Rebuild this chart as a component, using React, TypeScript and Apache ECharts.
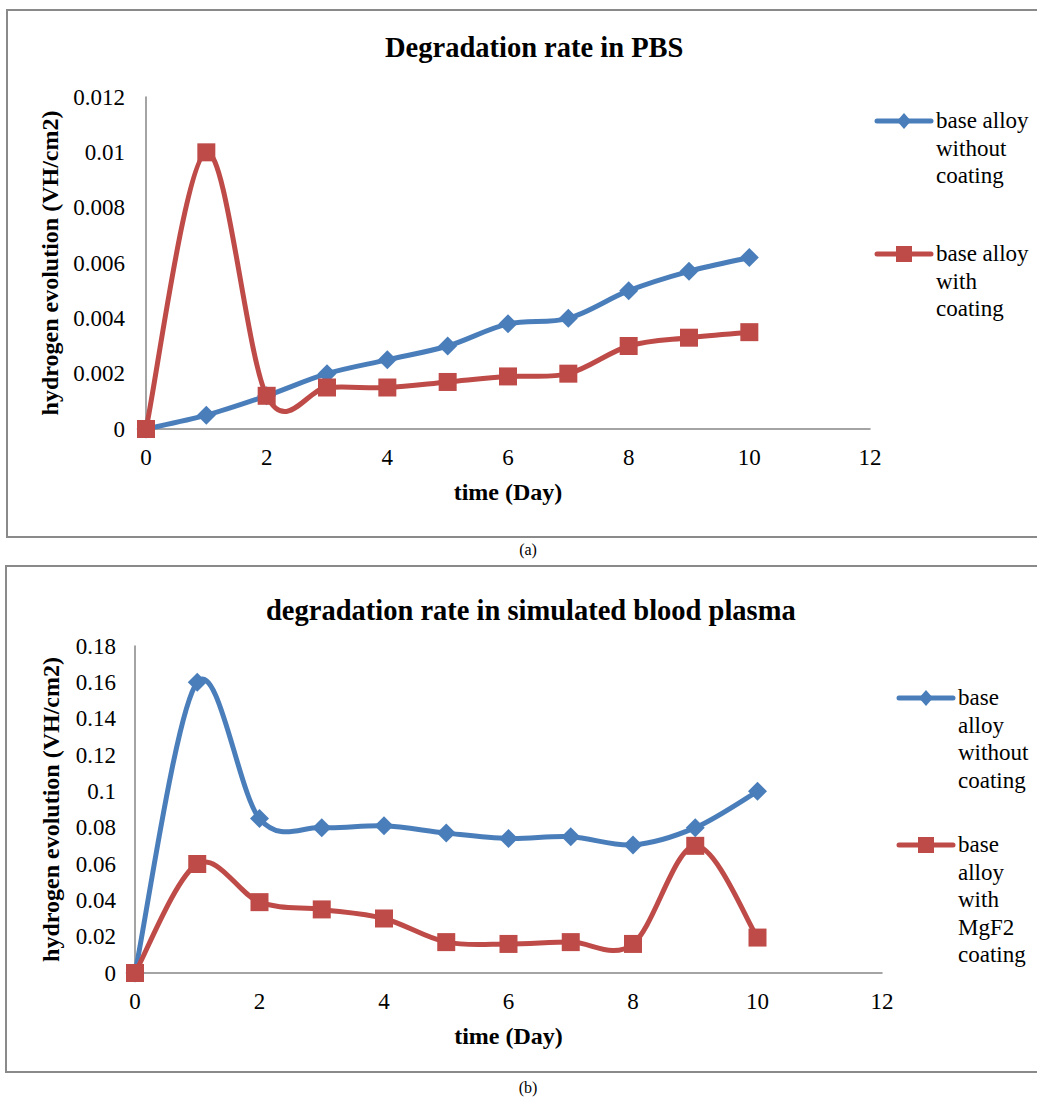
import React, { useEffect, useRef } from "react";
import * as echarts from "echarts";

const days = [0, 1, 2, 3, 4, 5, 6, 7, 8, 9, 10];
const pbsWithout = [0, 0.0005, 0.0012, 0.002, 0.0025, 0.003, 0.0038, 0.004, 0.005, 0.0057, 0.0062];
const pbsWith = [0, 0.01, 0.0012, 0.0015, 0.0015, 0.0017, 0.0019, 0.002, 0.003, 0.0033, 0.0035];
const plasmaWithout = [0, 0.16, 0.085, 0.08, 0.081, 0.077, 0.074, 0.075, 0.0705, 0.08, 0.1];
const plasmaWith = [0, 0.06, 0.039, 0.035, 0.03, 0.017, 0.016, 0.017, 0.016, 0.07, 0.0195];

const titleA = "Degradation rate in PBS";
const titleB = "degradation rate in simulated blood plasma";
const yName = "hydrogen evolution (VH/cm2)";
const xName = "time (Day)";
const legendA = ["base alloy\nwithout\ncoating", "base alloy\nwith\ncoating"];
const legendB = ["base\nalloy\nwithout\ncoating", "base\nalloy\nwith\nMgF2\ncoating"];

const FONT = '"Liberation Serif", "Times New Roman", serif';
const BLUE = "#4A7EBB";
const RED = "#BE4B48";
const AXIS = "#868686";

const pairs = (ys: number[]) => days.map((d, i) => [d, ys[i]]);

function legendItem(x: number, y: number, color: string, kind: "diamond" | "square", text: string) {
  const cx = x + 27;
  const marker =
    kind === "diamond"
      ? { type: "polygon", shape: { points: [[cx, y - 8], [cx + 7, y], [cx, y + 8], [cx - 7, y]] }, style: { fill: color } }
      : { type: "rect", shape: { x: cx - 8, y: y - 8, width: 16, height: 16 }, style: { fill: color } };
  return [
    { type: "line", shape: { x1: x, y1: y, x2: x + 54, y2: y }, style: { stroke: color, lineWidth: 5, lineCap: "round" } },
    marker,
    {
      type: "text",
      x: x + 59,
      y: y - 14,
      style: { text, font: `23px ${FONT}`, fill: "#000", lineHeight: 27.5, verticalAlign: "top", textAlign: "left" },
    },
  ];
}

// Excel-style smoothed segment (Catmull-Rom Bezier) drawn through the axes' scales
function smoothSeries(xi: number, ys: number[], color: string) {
  return {
    type: "custom",
    xAxisIndex: xi,
    yAxisIndex: xi,
    data: pairs(ys),
    encode: { x: 0, y: 1 },
    z: 2,
    silent: true,
    renderItem: (params: any, api: any) => {
      const i = params.dataIndex;
      if (i >= days.length - 1) return null;
      const pt = (j: number) => {
        const k = Math.max(0, Math.min(days.length - 1, j));
        return api.coord([days[k], ys[k]]);
      };
      const p0 = pt(i - 1);
      const p1 = pt(i);
      const p2 = pt(i + 1);
      const p3 = pt(i + 2);
      return {
        type: "bezierCurve",
        shape: {
          x1: p1[0],
          y1: p1[1],
          cpx1: p1[0] + (p2[0] - p0[0]) / 6,
          cpy1: p1[1] + (p2[1] - p0[1]) / 6,
          cpx2: p2[0] - (p3[0] - p1[0]) / 6,
          cpy2: p2[1] - (p3[1] - p1[1]) / 6,
          x2: p2[0],
          y2: p2[1],
        },
        style: { stroke: color, lineWidth: 5, fill: "none", lineCap: "round" },
      };
    },
  };
}

export default function App() {
  const ref = useRef<HTMLDivElement>(null);
  useEffect(() => {
    const chart = echarts.init(ref.current!, null, { renderer: "svg" });
    const axisCommon = {
      type: "value",
      axisLine: { show: true, lineStyle: { color: AXIS, width: 1.5 } },
      axisTick: { show: false },
      splitLine: { show: false },
    };
    const tickFmt = (v: number) => String(parseFloat(v.toFixed(4)));
    const xAxis = (gridIndex: number) => ({
      ...axisCommon,
      gridIndex,
      min: 0,
      max: 12,
      interval: 2,
      name: xName,
      nameLocation: "middle",
      nameGap: 51,
      nameTextStyle: { fontFamily: FONT, fontSize: 24, fontWeight: "bold", color: "#000" },
      axisLabel: { fontFamily: FONT, fontSize: 23, color: "#000", margin: 17 },
    });
    const yAxis = (gridIndex: number, max: number, interval: number, gap: number, margin: number) => ({
      ...axisCommon,
      gridIndex,
      min: 0,
      max,
      interval,
      name: yName,
      nameLocation: "middle",
      nameRotate: 90,
      nameGap: gap,
      nameTextStyle: { fontFamily: FONT, fontSize: 24, fontWeight: "bold", color: "#000" },
      axisLabel: { fontFamily: FONT, fontSize: 23, color: "#000", margin, formatter: tickFmt },
    });
    const markers = (xi: number, data: number[], color: string, symbol: string, size: number, name: string) => ({
      type: "line",
      name,
      xAxisIndex: xi,
      yAxisIndex: xi,
      data: pairs(data),
      symbol,
      symbolSize: size,
      lineStyle: { color, width: 0, opacity: 0 },
      itemStyle: { color },
      z: 3,
    });
    chart.setOption({
      animation: false,
      backgroundColor: "#fff",
      title: [
        { text: titleA, left: 380, top: 28, textStyle: { fontFamily: FONT, fontSize: 28.5, fontWeight: "bold", color: "#000" } },
        { text: titleB, left: 261, top: 591, textStyle: { fontFamily: FONT, fontSize: 28.5, fontWeight: "bold", color: "#000" } },
      ],
      grid: [
        { left: 146, top: 97, width: 724, height: 332, outerBoundsMode: "none" },
        { left: 135, top: 646, width: 747, height: 327, outerBoundsMode: "none" },
      ],
      xAxis: [xAxis(0), xAxis(1)],
      yAxis: [yAxis(0, 0.012, 0.002, 82, 21), yAxis(1, 0.18, 0.02, 72, 19)],
      series: [
        smoothSeries(0, pbsWithout, BLUE),
        markers(0, pbsWithout, BLUE, "diamond", 19, "base alloy without coating"),
        smoothSeries(0, pbsWith, RED),
        markers(0, pbsWith, RED, "rect", 18, "base alloy with coating"),
        smoothSeries(1, plasmaWithout, BLUE),
        markers(1, plasmaWithout, BLUE, "diamond", 19, "base alloy without coating (plasma)"),
        smoothSeries(1, plasmaWith, RED),
        markers(1, plasmaWith, RED, "rect", 18, "base alloy with MgF2 coating"),
      ],
      graphic: [
        { type: "rect", shape: { x: 7, y: 10, width: 1040, height: 527 }, style: { fill: "none", stroke: "#8a8a8a", lineWidth: 2 }, z: 0 },
        { type: "rect", shape: { x: 6, y: 566, width: 1040, height: 506 }, style: { fill: "none", stroke: "#8a8a8a", lineWidth: 2 }, z: 0 },
        { type: "text", x: 528, y: 549, style: { text: "(a)", font: `16px ${FONT}`, fill: "#000", textAlign: "center", verticalAlign: "middle" } },
        { type: "text", x: 528, y: 1087, style: { text: "(b)", font: `16px ${FONT}`, fill: "#000", textAlign: "center", verticalAlign: "middle" } },
        ...legendItem(877, 121, BLUE, "diamond", legendA[0]),
        ...legendItem(877, 254, RED, "square", legendA[1]),
        ...legendItem(899, 698, BLUE, "diamond", legendB[0]),
        ...legendItem(899, 845, RED, "square", legendB[1]),
      ],
    });
    return () => chart.dispose();
  }, []);
  return <div ref={ref} style={{ position: "fixed", left: 0, top: 0, width: 1037, height: 1097 }} />;
}
